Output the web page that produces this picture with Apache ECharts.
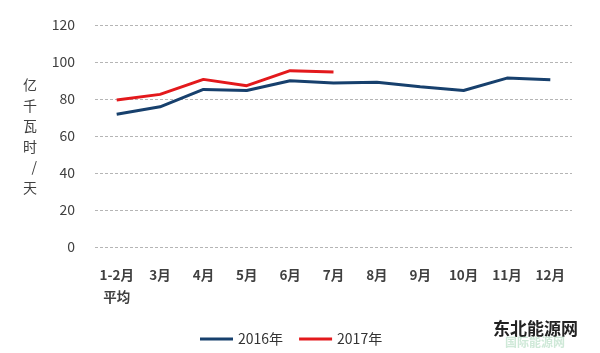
<!DOCTYPE html>
<html>
<head>
<meta charset="utf-8">
<script src="https://cdn.jsdelivr.net/npm/echarts@6/dist/echarts.min.js"></script>
<style>
    html, body { margin: 0; padding: 0; background: #fff; }
    #main { width: 600px; height: 353px; }
</style>
</head>
<body>
<div id="main"></div>
<script>
// 月份
let categories = ['1-2月\n平均', '3月', '4月', '5月', '6月', '7月', '8月', '9月', '10月', '11月', '12月'];
// 日均发电量，亿千瓦时/天
let data2016 = [71.8, 75.8, 85.2, 84.6, 89.9, 88.6, 89.1, 86.6, 84.6, 91.3, 90.4];
let data2017 = [79.4, 82.5, 90.6, 87.2, 95.3, 94.6];
let legendList = ['2016年', '2017年'];
let colorList = ['#17406d', '#e3191c'];

let myChart = echarts.init(document.getElementById('main'));
let font = '"Noto Sans CJK SC", "Open Sans", sans-serif';

const option = {
    color: colorList,
    animation: false,
    textStyle: { fontFamily: font },
    grid: {
        left: 95,
        right: 28,
        top: 25,
        bottom: 106
    },
    legend: {
        data: legendList,
        bottom: 2,
        left: 195,
        icon: 'rect',
        itemWidth: 33,
        itemHeight: 3,
        itemGap: 16,
        selectedMode: false,
        textStyle: { fontSize: 14, color: '#333', fontFamily: font }
    },
    xAxis: {
        type: 'category',
        boundaryGap: true,
        data: categories,
        axisLine: { show: false },
        axisTick: { show: false },
        axisLabel: {
            interval: 0,
            margin: 17,
            fontSize: 13.5,
            fontWeight: 'bold',
            color: '#404040',
            lineHeight: 22,
            fontFamily: font
        }
    },
    yAxis: {
        type: 'value',
        min: 0,
        max: 120,
        interval: 20,
        name: '亿\n千\n瓦\n时\n/\n天',
        nameLocation: 'middle',
        nameRotate: 0,
        nameGap: 58,
        nameTextStyle: { fontSize: 14, color: '#404040', lineHeight: 20.5, padding: [5, 0, 0, 0], fontFamily: font },
        axisLine: { show: false },
        axisTick: { show: false },
        axisLabel: { margin: 20, fontSize: 14, color: '#404040', fontFamily: font },
        splitLine: {
            lineStyle: { type: [3, 2], color: '#b5b5b5', width: 1 }
        }
    },
    series: [
        {
            name: legendList[0],
            type: 'line',
            symbol: 'none',
            lineStyle: { width: 3 },
            data: data2016
        },
        {
            name: legendList[1],
            type: 'line',
            symbol: 'none',
            lineStyle: { width: 3 },
            data: data2017
        }
    ],
    graphic: [
        {
            type: 'text',
            left: 493,
            top: 320,
            style: { text: '东北能源网', font: 'bold 17px ' + font, fill: '#222' }
        },
        {
            type: 'text',
            left: 505,
            top: 336,
            style: { text: '国际能源网', font: 'bold 12px ' + font, fill: '#cfe9d8' }
        }
    ]
};
myChart.setOption(option);
</script>
</body>
</html>
